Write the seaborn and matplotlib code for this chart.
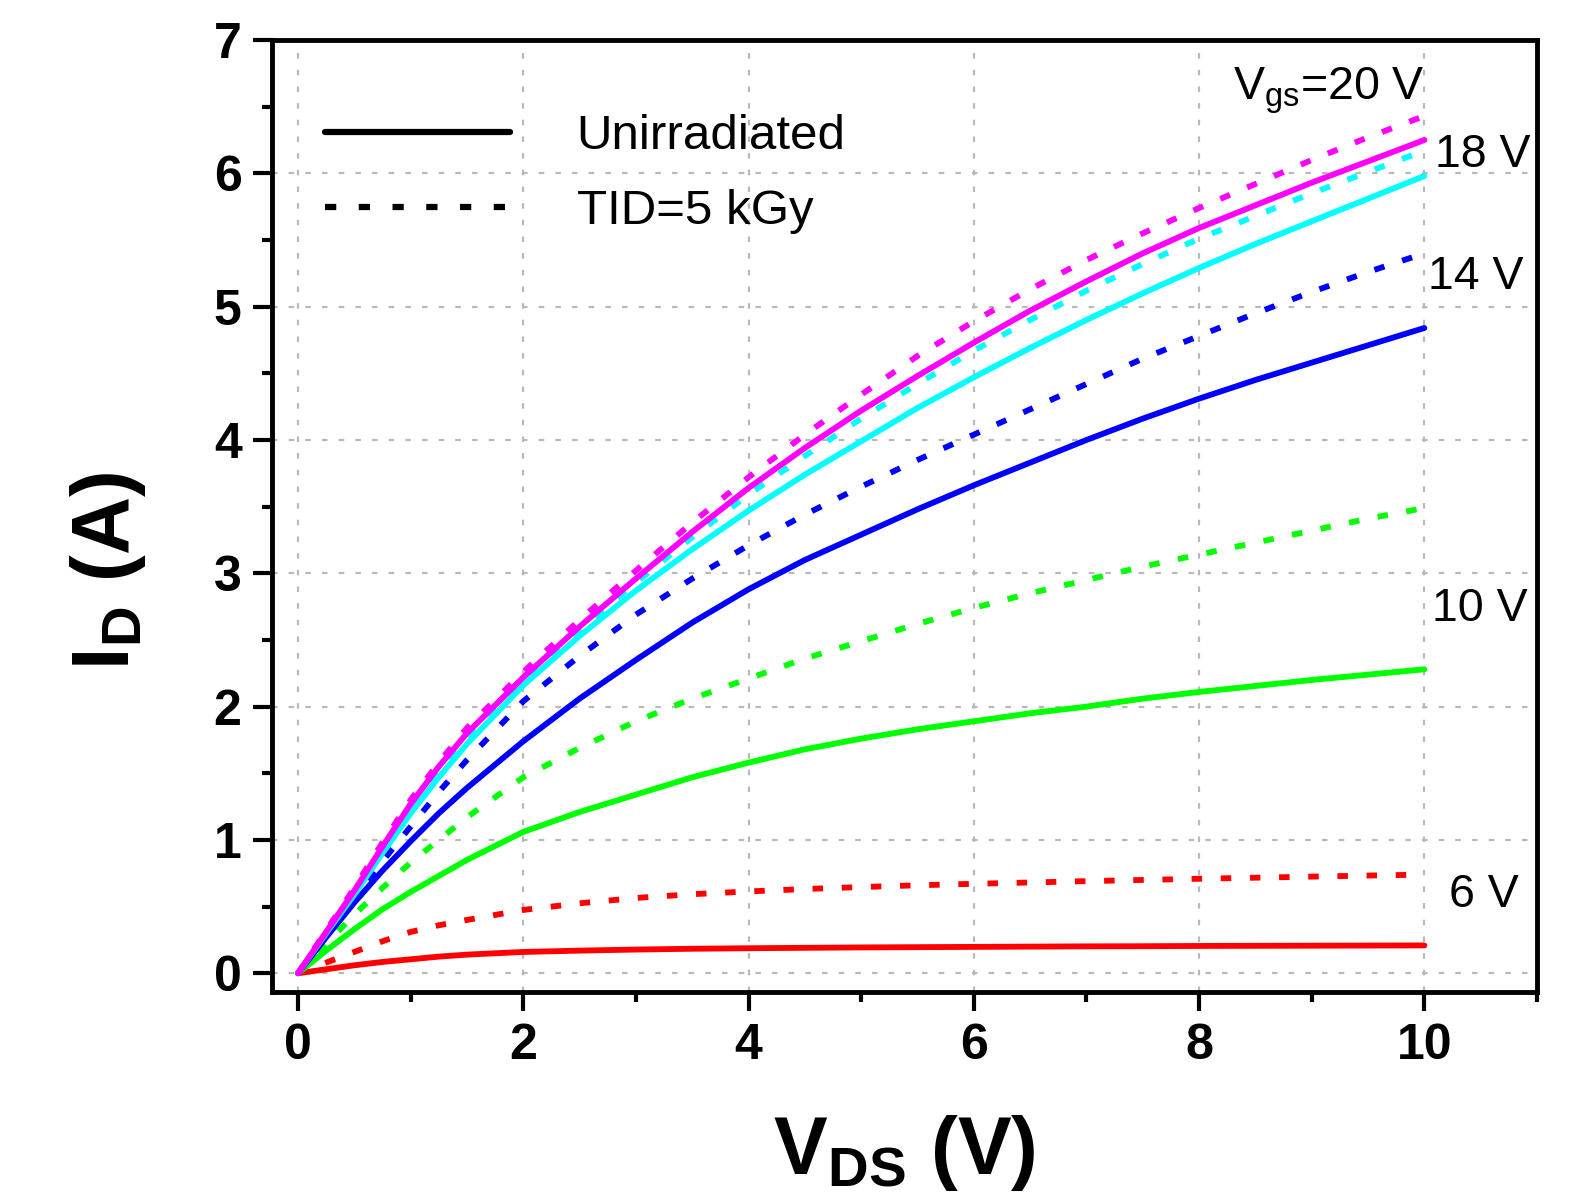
import pandas as pd
import seaborn as sns
import matplotlib.pyplot as plt
from matplotlib.lines import Line2D
from matplotlib.ticker import MultipleLocator

# output curves
vds = [0, 0.25, 0.5, 0.75, 1, 1.25, 1.5, 2, 2.5, 3, 3.5, 4, 4.5, 5,
       5.5, 6, 6.5, 7, 7.5, 8, 8.5, 9, 9.5, 10]

id_6v = [0, 0.03, 0.06, 0.085, 0.105, 0.125, 0.14, 0.16, 0.17, 0.178, 0.184, 0.188,
         0.191, 0.194, 0.196, 0.198, 0.200, 0.202, 0.203, 0.205, 0.206, 0.207, 0.208, 0.209]
id_6v_tid = [0, 0.08, 0.16, 0.24, 0.31, 0.36, 0.40, 0.475, 0.525, 0.565, 0.593, 0.614,
             0.632, 0.647, 0.66, 0.671, 0.681, 0.691, 0.70, 0.709, 0.717, 0.725, 0.733, 0.74]
id_10v = [0, 0.17, 0.33, 0.48, 0.61, 0.73, 0.85, 1.06, 1.21, 1.34, 1.47, 1.58,
          1.68, 1.76, 1.83, 1.89, 1.95, 2.00, 2.06, 2.11, 2.155, 2.20, 2.24, 2.28]
id_10v_tid = [0, 0.22, 0.44, 0.64, 0.83, 1.00, 1.17, 1.47, 1.69, 1.89, 2.06, 2.21,
              2.36, 2.49, 2.62, 2.74, 2.85, 2.95, 3.05, 3.14, 3.23, 3.32, 3.41, 3.49]
id_14v = [0, 0.27, 0.53, 0.77, 0.99, 1.20, 1.39, 1.74, 2.06, 2.35, 2.63, 2.88,
          3.10, 3.29, 3.48, 3.66, 3.83, 4.00, 4.16, 4.31, 4.45, 4.58, 4.71, 4.84]
id_14v_tid = [0, 0.28, 0.56, 0.84, 1.10, 1.36, 1.60, 2.04, 2.38, 2.69, 2.96, 3.21,
              3.44, 3.65, 3.85, 4.04, 4.23, 4.42, 4.61, 4.78, 4.95, 5.11, 5.26, 5.40]
id_18v = [0, 0.30, 0.59, 0.90, 1.20, 1.47, 1.72, 2.16, 2.53, 2.87, 3.18, 3.47,
          3.74, 3.99, 4.24, 4.47, 4.69, 4.90, 5.10, 5.29, 5.47, 5.64, 5.81, 5.98]
id_18v_tid = [0, 0.31, 0.61, 0.94, 1.25, 1.53, 1.78, 2.20, 2.58, 2.93, 3.27, 3.59,
              3.88, 4.16, 4.42, 4.67, 4.90, 5.12, 5.32, 5.51, 5.68, 5.85, 6.01, 6.17]
id_20v = [0, 0.31, 0.62, 0.95, 1.27, 1.55, 1.80, 2.22, 2.60, 2.96, 3.31, 3.64,
          3.94, 4.22, 4.48, 4.73, 4.97, 5.19, 5.40, 5.59, 5.76, 5.93, 6.09, 6.25]
id_20v_tid = [0, 0.32, 0.64, 0.98, 1.30, 1.58, 1.84, 2.26, 2.65, 3.02, 3.38, 3.72,
              4.04, 4.34, 4.63, 4.89, 5.13, 5.35, 5.55, 5.74, 5.92, 6.10, 6.27, 6.43]

curves = {
    ("6 V", "Unirradiated"): id_6v,
    ("6 V", "TID=5 kGy"): id_6v_tid,
    ("10 V", "Unirradiated"): id_10v,
    ("10 V", "TID=5 kGy"): id_10v_tid,
    ("14 V", "Unirradiated"): id_14v,
    ("14 V", "TID=5 kGy"): id_14v_tid,
    ("18 V", "Unirradiated"): id_18v,
    ("18 V", "TID=5 kGy"): id_18v_tid,
    ("20 V", "Unirradiated"): id_20v,
    ("20 V", "TID=5 kGy"): id_20v_tid,
}
colors = {"6 V": "#ff0000", "10 V": "#00ff00", "14 V": "#0000ff",
          "18 V": "#00ffff", "20 V": "#ff00ff"}

rows = []
for (vgs, cond), ids in curves.items():
    for v, i in zip(vds, ids):
        rows.append({"V_DS": v, "I_D": i, "Vgs": vgs, "condition": cond})
df = pd.DataFrame(rows)

sns.set_style("white")
plt.rcParams["font.family"] = ["Liberation Sans", "DejaVu Sans"]
plt.rcParams["mathtext.fontset"] = "custom"
plt.rcParams["mathtext.rm"] = "Liberation Sans"
plt.rcParams["mathtext.bf"] = "Liberation Sans:bold"
plt.rcParams["mathtext.it"] = "Liberation Sans:italic"
for key in ["text.color", "axes.labelcolor", "xtick.color", "ytick.color"]:
    plt.rcParams[key] = "black"

fig = plt.figure(figsize=(15.79, 11.97), dpi=100)
ax = fig.add_axes([0.1723, 0.1713, 0.8011, 0.7953])

ax.set_axisbelow(True)
ax.grid(True, which="major", color="#b9b9b9", linestyle=(0, (2.5, 5)), linewidth=1.6)

sns.lineplot(data=df, x="V_DS", y="I_D", hue="Vgs", style="condition",
             palette=colors, dashes={"Unirradiated": "", "TID=5 kGy": (1.8, 3.2)},
             linewidth=4.2, errorbar=None, legend=False, ax=ax)
for line in ax.lines:
    line.set_linewidth(4.2)

ax.set_xlim(-0.23, 11.0)
ax.set_ylim(-0.14, 7.0)
ax.xaxis.set_major_locator(MultipleLocator(2))
ax.xaxis.set_minor_locator(MultipleLocator(1))
ax.yaxis.set_major_locator(MultipleLocator(1))
ax.yaxis.set_minor_locator(MultipleLocator(0.5))

for side in ["left", "right", "top", "bottom"]:
    ax.spines[side].set_linewidth(3.5)
    ax.spines[side].set_color("black")
ax.tick_params(which="major", direction="out", length=14, width=3, pad=8,
               labelsize=36, bottom=True, left=True, top=False, right=False)
ax.tick_params(which="minor", direction="out", length=7, width=3,
               bottom=True, left=True, top=False, right=False)
for lab in ax.get_xticklabels() + ax.get_yticklabels():
    lab.set_fontweight("bold")

ax.set_xlabel(r"$\mathbf{V_{DS}}$ (V)", fontsize=58, fontweight="bold")
ax.set_ylabel(r"$\mathbf{I_D}$ (A)", fontsize=58, fontweight="bold")
ax.xaxis.set_label_coords(0.5, -0.127)
ax.yaxis.set_label_coords(-0.098, 0.442)

# gate voltage labels
ax.text(10.0, 6.55, r"V$_{\mathrm{gs}}$=20 V", fontsize=33.5, ha="right", va="baseline")
ax.text(10.94, 6.05, "18 V", fontsize=33.5, ha="right", va="baseline")
ax.text(10.88, 5.13, "14 V", fontsize=33.5, ha="right", va="baseline")
ax.text(10.92, 2.64, "10 V", fontsize=33.5, ha="right", va="baseline")
ax.text(10.84, 0.495, "6 V", fontsize=33.5, ha="right", va="baseline")

handles = [
    Line2D([], [], color="black", linewidth=4.5, linestyle="-"),
    Line2D([], [], color="black", linewidth=4.5, linestyle=(0, (1.8, 3.6))),
]
ax.legend(handles, ["Unirradiated", "TID=5 kGy"], loc="upper left",
          bbox_to_anchor=(0.042, 0.922), frameon=False, fontsize=35.5,
          handlelength=3.75, handletextpad=1.35, labelspacing=0.6,
          borderpad=0, borderaxespad=0)

fig.savefig("out.png", dpi=100)
